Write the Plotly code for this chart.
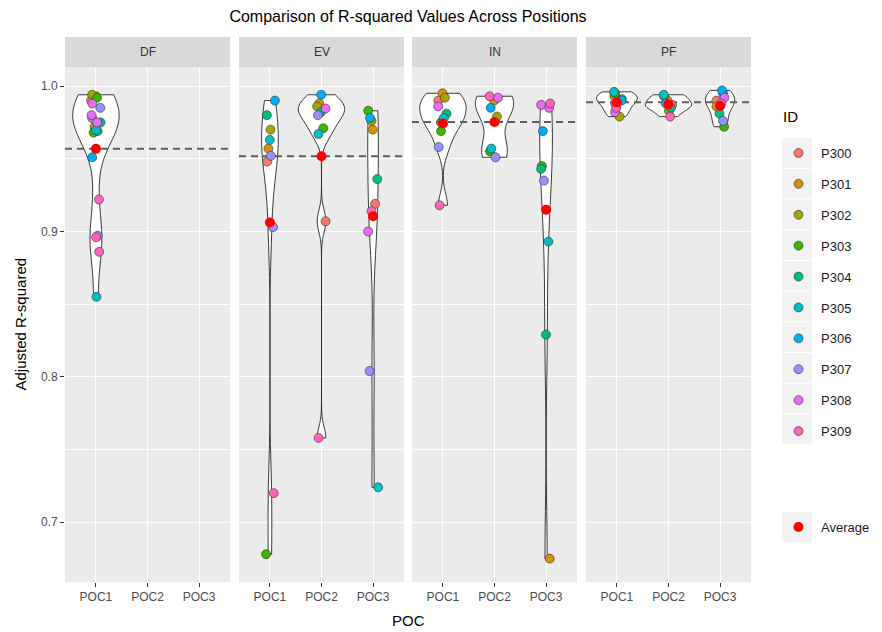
import numpy as np
import plotly.graph_objects as go

# ---- data -------------------------------------------------------------
POSITIONS = ["DF", "EV", "IN", "PF"]
POC_LABELS = ["POC1", "POC2", "POC3"]
ID_LABELS = ["P300", "P301", "P302", "P303", "P304",
             "P305", "P306", "P307", "P308", "P309"]
ID_COLORS = ["#F8766D", "#D89000", "#A3A500", "#39B600", "#00BF7D",
             "#00BFC4", "#00B0F6", "#9590FF", "#E76BF3", "#FF62BC"]

# adjusted R-squared per participant, one pair of lists per position / POC
DF_POC1_ID = ["P302", "P301", "P303", "P300", "P308", "P307", "P308", "P307", "P304", "P308",
              "P301", "P305", "P304", "P303", "P306", "P309", "P307", "P309", "P309", "P305"]
DF_POC1_R2 = [0.994, 0.993, 0.992, 0.990, 0.988, 0.985, 0.980, 0.978, 0.975, 0.975,
              0.972, 0.970, 0.969, 0.968, 0.951, 0.922, 0.897, 0.896, 0.886, 0.855]

EV_POC1_ID = ["P306", "P304", "P302", "P305", "P301", "P307", "P300", "P307", "P309", "P303"]
EV_POC1_R2 = [0.990, 0.980, 0.970, 0.963, 0.957, 0.952, 0.948, 0.903, 0.720, 0.678]
EV_POC2_ID = ["P306", "P301", "P302", "P308", "P304", "P307", "P303", "P305", "P300", "P309"]
EV_POC2_R2 = [0.994, 0.988, 0.986, 0.9845, 0.982, 0.980, 0.971, 0.967, 0.907, 0.758]
EV_POC3_ID = ["P303", "P306", "P302", "P301", "P304", "P300", "P309", "P308", "P307", "P305"]
EV_POC3_R2 = [0.983, 0.978, 0.976, 0.970, 0.936, 0.919, 0.914, 0.900, 0.804, 0.724]

IN_POC1_ID = ["P301", "P302", "P300", "P308", "P304", "P305", "P303", "P303", "P307", "P309"]
IN_POC1_R2 = [0.995, 0.992, 0.990, 0.986, 0.981, 0.978, 0.975, 0.969, 0.958, 0.918]
IN_POC2_ID = ["P309", "P308", "P301", "P306", "P302", "P305", "P303", "P307"]
IN_POC2_R2 = [0.993, 0.992, 0.990, 0.985, 0.979, 0.957, 0.955, 0.951]
IN_POC3_ID = ["P309", "P308", "P308", "P306", "P303", "P304", "P307", "P305", "P304", "P301"]
IN_POC3_R2 = [0.988, 0.987, 0.985, 0.969, 0.945, 0.943, 0.935, 0.893, 0.829, 0.675]

PF_POC1_ID = ["P305", "P303", "P301", "P304", "P306", "P300", "P309", "P308", "P302"]
PF_POC1_R2 = [0.996, 0.995, 0.993, 0.991, 0.990, 0.988, 0.985, 0.982, 0.979]
PF_POC2_ID = ["P305", "P303", "P301", "P306", "P300", "P304", "P302", "P309"]
PF_POC2_R2 = [0.994, 0.993, 0.990, 0.988, 0.987, 0.985, 0.983, 0.979]
PF_POC3_ID = ["P306", "P305", "P308", "P300", "P309", "P301", "P304", "P307", "P303"]
PF_POC3_R2 = [0.997, 0.995, 0.992, 0.990, 0.988, 0.986, 0.981, 0.976, 0.972]

GROUPS = {
    "DF": {"POC1": (DF_POC1_ID, DF_POC1_R2)},
    "EV": {"POC1": (EV_POC1_ID, EV_POC1_R2), "POC2": (EV_POC2_ID, EV_POC2_R2),
           "POC3": (EV_POC3_ID, EV_POC3_R2)},
    "IN": {"POC1": (IN_POC1_ID, IN_POC1_R2), "POC2": (IN_POC2_ID, IN_POC2_R2),
           "POC3": (IN_POC3_ID, IN_POC3_R2)},
    "PF": {"POC1": (PF_POC1_ID, PF_POC1_R2), "POC2": (PF_POC2_ID, PF_POC2_R2),
           "POC3": (PF_POC3_ID, PF_POC3_R2)},
}

# ---- geometry (pixels of the 882 x 632 canvas) -------------------------
W, H = 882, 632
PANEL_X = [(65, 230), (239, 404), (412, 577), (586, 751)]
PANEL_TOP, PANEL_BOT, STRIP_TOP = 67, 582, 37
FONT = "Liberation Sans, Arial, sans-serif"
VIOLIN_WIDTH = 0.9


def fx(px):
    return px / W


def fy(px):
    return 1 - px / H


def nrd0(v):
    """Silverman's rule as in R's bw.nrd0."""
    v = np.asarray(v, float)
    sd = v.std(ddof=1)
    iqr = np.subtract(*np.percentile(v, [75, 25]))
    s = min(sd, iqr / 1.34) if iqr > 0 else sd
    return 0.9 * s * len(v) ** -0.2


def kde_peak(v, bw):
    """Highest gaussian-kernel density inside the data range."""
    v = np.asarray(v, float)
    grid = np.linspace(v.min(), v.max(), 512)
    z = (grid[:, None] - v[None, :]) / bw
    dens = np.exp(-0.5 * z ** 2).sum(axis=1) / (len(v) * bw * np.sqrt(2 * np.pi))
    return dens.max()


all_vals = np.concatenate([np.asarray(v) for g in GROUPS.values() for _, v in g.values()])
pad = 0.05 * (all_vals.max() - all_vals.min())
Y_RANGE = [all_vals.min() - pad, all_vals.max() + pad]
X_RANGE = [0.4, 3.6]

rng = np.random.default_rng(11)
fig = go.Figure()
legend_done = set()
shapes, annotations = [], []

for k, pos_name in enumerate(POSITIONS):
    ax = "" if k == 0 else str(k + 1)
    xa, ya = "x" + ax, "y" + ax
    groups = GROUPS[pos_name]

    # violins, equal area within a panel: width follows each density peak
    bws = {poc: nrd0(v) for poc, (_, v) in groups.items()}
    peaks = {poc: kde_peak(v, bws[poc]) for poc, (_, v) in groups.items()}
    panel_peak = max(peaks.values())
    for poc, (ids, vals) in groups.items():
        xpos = POC_LABELS.index(poc) + 1
        fig.add_trace(go.Violin(
            x=[xpos] * len(vals), y=vals,
            width=VIOLIN_WIDTH * peaks[poc] / panel_peak, spanmode="hard",
            bandwidth=bws[poc], scalemode="width",
            fillcolor="white", line=dict(color="#262626", width=0.9),
            points=False, hoverinfo="skip", showlegend=False,
            xaxis=xa, yaxis=ya))

    # reference line: best POC average for the position
    best = max(np.mean(v) for _, v in groups.values())
    fig.add_trace(go.Scatter(
        x=X_RANGE, y=[best, best], mode="lines",
        line=dict(color="#5f5f5f", width=2, dash="7px,5px"),
        hoverinfo="skip", showlegend=False, xaxis=xa, yaxis=ya))

    # participant points (jittered horizontally)
    for poc, (ids, vals) in groups.items():
        xpos = POC_LABELS.index(poc) + 1
        ids = np.array(ids)
        vals = np.array(vals)
        jit = rng.uniform(-0.1, 0.1, len(vals))
        for i, pid in enumerate(ID_LABELS):
            m = ids == pid
            if not m.any():
                continue
            fig.add_trace(go.Scatter(
                x=xpos + jit[m], y=vals[m], mode="markers", name=pid,
                legendgroup=pid, legendrank=i + 1,
                showlegend=pid not in legend_done,
                marker=dict(size=9, color=ID_COLORS[i],
                            line=dict(color="#333333", width=0.6)),
                xaxis=xa, yaxis=ya))
            legend_done.add(pid)

    # averages
    for poc, (ids, vals) in groups.items():
        xpos = POC_LABELS.index(poc) + 1
        fig.add_trace(go.Scatter(
            x=[xpos], y=[np.mean(vals)], mode="markers", name="Average",
            legend="legend2", legendgroup="avg",
            showlegend="avg" not in legend_done,
            marker=dict(size=10, color="#FF0000"),
            xaxis=xa, yaxis=ya))
        legend_done.add("avg")

    x0, x1 = PANEL_X[k]
    fig.layout["xaxis" + ax] = dict(
        domain=[fx(x0), fx(x1)], anchor=ya, range=X_RANGE,
        tickvals=[1, 2, 3], ticktext=POC_LABELS,
        showgrid=True, gridcolor="white", gridwidth=1.2, zeroline=False,
        ticks="outside", ticklen=4, tickcolor="#333333",
        tickfont=dict(size=12, color="#4D4D4D", family=FONT))
    fig.layout["yaxis" + ax] = dict(
        domain=[fy(PANEL_BOT), fy(PANEL_TOP)], anchor=xa, range=Y_RANGE,
        tick0=0.7, dtick=0.1, tickformat=".1f",
        showgrid=True, gridcolor="white", gridwidth=1.2, zeroline=False,
        minor=dict(dtick=0.05, showgrid=True, gridcolor="white", gridwidth=0.6),
        showticklabels=(k == 0), ticks="outside" if k == 0 else "",
        ticklen=4, tickcolor="#333333",
        tickfont=dict(size=12, color="#4D4D4D", family=FONT))

    # facet strip
    shapes.append(dict(type="rect", xref="paper", yref="paper",
                       x0=fx(x0), x1=fx(x1), y0=fy(PANEL_TOP), y1=fy(STRIP_TOP),
                       fillcolor="#D9D9D9", line=dict(width=0), layer="below"))
    annotations.append(dict(text=pos_name, xref="paper", yref="paper",
                            x=fx((x0 + x1) / 2), y=fy((PANEL_TOP + STRIP_TOP) / 2),
                            showarrow=False, xanchor="center", yanchor="middle",
                            font=dict(size=12, color="#333333", family=FONT)))

# legend key backgrounds
KEY_X0, KEY_X1, KEY_H, KEY_Y0 = 782, 812, 30.7, 153
for i in range(len(ID_LABELS)):
    yc = KEY_Y0 + i * KEY_H
    shapes.append(dict(type="rect", xref="paper", yref="paper",
                       x0=fx(KEY_X0), x1=fx(KEY_X1),
                       y0=fy(yc + KEY_H / 2 - 0.5), y1=fy(yc - KEY_H / 2 + 0.5),
                       fillcolor="#F2F2F2", line=dict(width=0), layer="below"))
shapes.append(dict(type="rect", xref="paper", yref="paper",
                   x0=fx(KEY_X0), x1=fx(KEY_X1), y0=fy(527 + 15), y1=fy(527 - 15),
                   fillcolor="#F2F2F2", line=dict(width=0), layer="below"))

annotations.append(dict(text="ID", xref="paper", yref="paper",
                        x=fx(781), y=fy(117), showarrow=False,
                        xanchor="left", yanchor="middle",
                        font=dict(size=15, color="black", family=FONT)))
annotations.append(dict(text="Adjusted R-squared", xref="paper", yref="paper",
                        x=fx(20), y=fy((PANEL_TOP + PANEL_BOT) / 2), textangle=-90,
                        showarrow=False, xanchor="center", yanchor="middle",
                        font=dict(size=15, color="black", family=FONT)))
annotations.append(dict(text="POC", xref="paper", yref="paper",
                        x=fx((PANEL_X[0][0] + PANEL_X[-1][1]) / 2), y=fy(620),
                        showarrow=False, xanchor="center", yanchor="middle",
                        font=dict(size=15, color="black", family=FONT)))

fig.update_layout(
    width=W, height=H, margin=dict(l=0, r=0, t=0, b=0),
    paper_bgcolor="white", plot_bgcolor="#EBEBEB",
    font=dict(family=FONT),
    violinmode="overlay",
    title=dict(text="Comparison of R-squared Values Across Positions",
               x=fx((PANEL_X[0][0] + PANEL_X[-1][1]) / 2), xanchor="center",
               y=fy(16), yanchor="middle",
               font=dict(size=16, color="black", family=FONT)),
    legend=dict(x=fx(776), y=fy(138), xanchor="left", yanchor="top",
                font=dict(size=13, color="#1a1a1a", family=FONT),
                itemwidth=35, bgcolor="rgba(0,0,0,0)", tracegroupgap=11),
    legend2=dict(x=fx(776), y=fy(512), xanchor="left", yanchor="top",
                 font=dict(size=13, color="#1a1a1a", family=FONT),
                 itemwidth=35, bgcolor="rgba(0,0,0,0)"),
    shapes=shapes, annotations=annotations,
)

fig.write_html("out.html")
